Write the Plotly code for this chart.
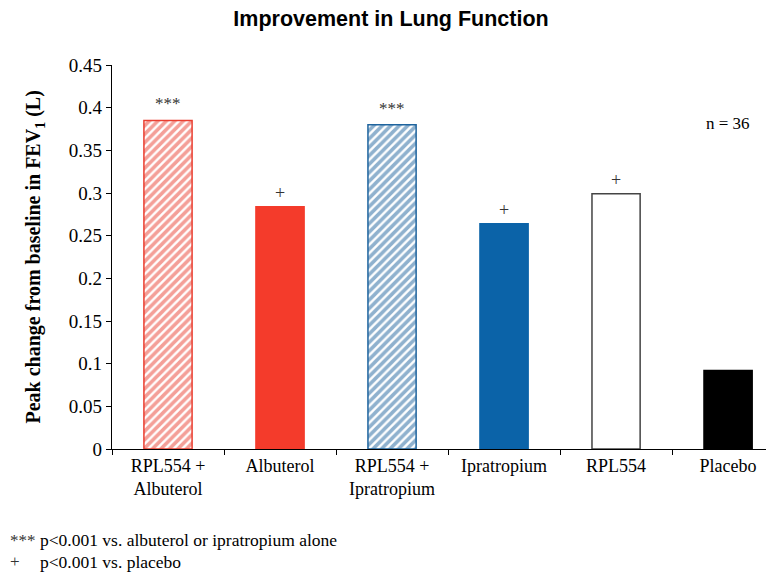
import plotly.graph_objects as go

categories = ["RPL554 +<br>Albuterol", "Albuterol", "RPL554 +<br>Ipratropium",
              "Ipratropium", "RPL554", "Placebo"]
values = [0.385, 0.284, 0.380, 0.264, 0.299, 0.092]
significance = ["***", "+", "***", "+", "+", ""]
y_ticks = [0, 0.05, 0.1, 0.15, 0.2, 0.25, 0.3, 0.35, 0.4, 0.45]
footnote_symbols = ["***", "+"]
footnote_texts = ["p<0.001 vs. albuterol or ipratropium alone", "p<0.001 vs. placebo"]

fill_colors = ["white", "#f43b2b", "white", "#0b63a8", "white", "black"]
line_colors = ["#ea3f31", "#f43b2b", "#1f649e", "#0b63a8", "#444444", "black"]
pattern_shapes = ["/", "", "/", "", "", ""]

serif = "Liberation Serif, Times New Roman, serif"

fig = go.Figure()
for c, v, fc, lc, ps in zip(categories, values, fill_colors, line_colors, pattern_shapes):
    marker = dict(color=fc, line=dict(color=lc, width=1.5))
    if ps:
        marker["pattern"] = dict(shape=ps, fgcolor=lc, bgcolor="white",
                                 size=6, solidity=0.6, fillmode="overlay")
    fig.add_trace(go.Bar(x=[c], y=[v], width=0.43, marker=marker,
                         showlegend=False, hoverinfo="x+y"))

for c, v, s in zip(categories, values, significance):
    if s:
        fig.add_annotation(x=c, y=v, text=s, showarrow=False, yanchor="bottom",
                           yshift=2 if s == "+" else 5,
                           font=dict(family=serif, size=18 if s == "+" else 17, color="#333333"))

fig.add_annotation(xref="paper", yref="y", x=0.930, y=0.382, text="n = 36",
                   showarrow=False, xanchor="center",
                   font=dict(family=serif, size=17, color="black"))

fig.add_annotation(xref="paper", yref="paper", x=-0.139, y=0.5,
                   text="<b>Peak change from baseline in FEV<sub>1</sub> (L)</b>",
                   textangle=-90, showarrow=False,
                   font=dict(family=serif, size=20, color="black"))

foot_y = [-0.237, -0.294]
for sym, txt, fy in zip(footnote_symbols, footnote_texts, foot_y):
    fig.add_annotation(xref="paper", yref="paper", x=-0.157, y=fy,
                       xanchor="left", yanchor="middle", showarrow=False,
                       text=sym, xshift=0,
                       font=dict(family=serif, size=17, color="#333333"))
    fig.add_annotation(xref="paper", yref="paper", x=-0.157, y=fy,
                       xanchor="left", yanchor="middle", showarrow=False,
                       text=txt, xshift=30,
                       font=dict(family=serif, size=17.5, color="black"))

fig.update_layout(
    width=766, height=565,
    margin=dict(l=104, r=0, t=57, b=124),
    plot_bgcolor="white", paper_bgcolor="white",
    barmode="overlay",
    title=dict(text="<b>Improvement in Lung Function</b>", x=0.5, xref="container",
               xanchor="center", y=0.982, yref="container", yanchor="middle",
               font=dict(family="Liberation Sans, Arial, sans-serif", size=21.5, color="black")),
)
fig.update_xaxes(range=[-0.5, 5.41], showline=True, linecolor="black", linewidth=1.2,
                 ticks="outside", tickson="boundaries", ticklen=5, tickcolor="black",
                 tickfont=dict(family=serif, size=18, color="black"),
                 showgrid=False, zeroline=False, fixedrange=True)
fig.update_yaxes(range=[0, 0.45], tickvals=y_ticks,
                 ticktext=[f"{t:g}" for t in y_ticks],
                 showline=True, linecolor="black", linewidth=1.2,
                 ticks="outside", ticklen=5, tickcolor="black",
                 tickfont=dict(family=serif, size=19, color="black"),
                 showgrid=False, zeroline=False)

fig.write_html("out.html")
